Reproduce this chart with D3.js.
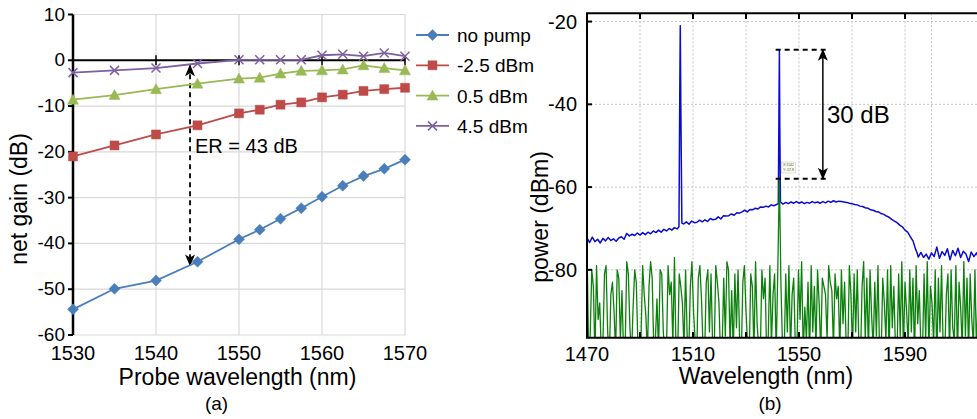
<!DOCTYPE html>
<html>
<head>
<meta charset="utf-8">
<script src="https://cdn.jsdelivr.net/npm/d3@7"></script>
<style>
  html, body { margin: 0; padding: 0; background: #fff; }
  svg { display: block; }
  text { font-family: "Liberation Sans", Arial, sans-serif; fill: #000; }
</style>
</head>
<body>
<div id="chart"></div>
<script>
// ---- Panel (a): net gain vs probe wavelength ------------------------------
const probeNm = [1530, 1535, 1540, 1545, 1550, 1552.5, 1555, 1557.5, 1560, 1562.5, 1565, 1567.5, 1570];
const gainNoPump = [-54.4, -49.9, -48.1, -44.0, -39.1, -37.0, -34.6, -32.3, -29.8, -27.4, -25.3, -23.7, -21.7];
const gainM25 = [-21.0, -18.6, -16.2, -14.2, -11.6, -10.8, -9.7, -9.2, -8.1, -7.5, -6.7, -6.3, -6.0];
const gain05 = [-8.6, -7.6, -6.3, -5.1, -4.0, -3.8, -2.9, -2.3, -2.2, -2.0, -1.1, -1.7, -2.2];
const gain45 = [-2.7, -2.2, -1.7, -0.7, 0.1, 0.1, 0.1, 0.1, 1.1, 1.3, 0.9, 1.6, 0.9];
const seriesNames = ["no pump", "-2.5 dBm", "0.5 dBm", "4.5 dBm"];
const gainTicks = [10, 0, -10, -20, -30, -40, -50, -60];
const probeTicks = [1530, 1540, 1550, 1560, 1570];
const erArrow = [1544.1, -1.1, -44.8]; // wavelength, top dB, bottom dB

// ---- Panel (b): optical spectrum ------------------------------------------
const specTicksX = [1470, 1510, 1550, 1590];
const specMinorX = [1490, 1510, 1530, 1550, 1570, 1590];
const specGridX = [1490, 1510, 1530, 1550, 1570, 1590, 1600];
const specTicksY = [-20, -40, -60, -80];
// blue trace: [nm, dBm]
const bluePump = [
  [1470, -72.3], [1471, -73.4], [1472, -72.1], [1473, -73.2], [1474, -72.6], [1475, -73.5], [1476, -72.4],
  [1477, -73.0], [1478, -72.2], [1479, -72.9], [1480, -72.5], [1481, -73.1], [1482, -72.3], [1483, -72.0],
  [1484, -72.6], [1485, -71.2], [1486, -71.8], [1487, -71.4], [1488, -71.7], [1489, -71.1], [1490, -71.6],
  [1491, -71.0], [1492, -71.5], [1493, -70.9], [1494, -71.3], [1495, -70.6], [1496, -71.0], [1497, -70.4],
  [1498, -70.9], [1499, -70.2], [1500, -70.6], [1501, -70.0], [1502, -70.4], [1503, -69.8], [1504, -70.1],
  [1504.7, -69.6], [1505.0, -38], [1505.2, -21], [1505.4, -40], [1505.8, -68.7], [1506.5, -68.9],
  [1507.5, -68.4], [1508.5, -69.0], [1509.5, -68.2], [1510.5, -68.6], [1511.5, -68.5], [1512.5, -68.0],
  [1513.5, -68.4], [1514.5, -67.9], [1515.5, -68.3], [1516.5, -67.6], [1517.5, -67.9], [1518.5, -67.8],
  [1519.5, -67.2], [1520.5, -67.7], [1521.5, -66.9], [1522.5, -67.0], [1523.5, -66.9], [1524.5, -66.5],
  [1525.5, -66.8], [1526.5, -66.2], [1527.5, -66.3], [1528.5, -66.0], [1529.5, -65.6], [1530.5, -66.0],
  [1531.5, -65.4], [1532.5, -65.5], [1533.5, -65.1], [1534.5, -65.3], [1535.5, -64.8], [1536.5, -64.9],
  [1537.5, -64.6], [1538.5, -64.8], [1539.5, -64.3], [1540.5, -64.5], [1541.5, -64.2], [1542.2, -64.0],
  [1542.45, -40], [1542.6, -27], [1542.75, -45], [1543.0, -63.6], [1544, -64.1], [1545, -63.7],
  [1546, -64.0], [1547, -63.6], [1548, -63.9], [1549, -63.5], [1550, -63.9], [1551, -63.6], [1552, -64.0],
  [1553, -63.7], [1554, -63.9], [1555, -63.5], [1556, -63.8], [1557, -63.6], [1558, -63.9], [1559, -63.5],
  [1560, -63.8], [1561, -63.4], [1562, -63.7], [1563, -63.3], [1564, -63.6], [1565, -63.4], [1566, -63.5],
  [1567, -63.6], [1568, -63.7], [1569, -63.9], [1570, -64.0], [1571, -64.2], [1572, -64.3], [1573, -64.6],
  [1574, -64.7], [1575, -65.0], [1576, -65.1], [1577, -65.5], [1578, -65.6], [1579, -65.9], [1580, -66.0],
  [1581, -66.4], [1582, -66.6], [1583, -67.0], [1584, -67.3], [1585, -67.8], [1586, -68.2], [1587, -68.6],
  [1588, -69.2], [1589, -69.6], [1590, -70.4], [1591, -70.9], [1592, -72.0], [1593, -73.0], [1594, -75.0],
  [1594.5, -75.8], [1595, -76.9], [1596, -75.8], [1597, -77.0], [1598, -76.2], [1599, -77.4], [1600, -75.9],
  [1601, -76.8], [1602, -74.5], [1603, -77.2], [1604, -75.6], [1605, -76.5], [1606, -74.9], [1607, -77.6],
  [1608, -75.3], [1609, -76.6], [1610, -74.8], [1611, -77.0], [1612, -75.5], [1613, -76.2], [1614, -78.0],
  [1615, -75.7], [1616, -76.8], [1617, -75.9], [1618, -77.5], [1619, -76.1], [1620, -76.6]
];
// green trace: sampled every 0.6 nm from 1470 nm
const greenStartNm = 1470;
const greenStepNm = 0.6;
const greenNoPump = [
  -74, -99, -96, -80, -84, -101, -79, -92, -88, -100, -98, -81, -79, -95, -102, -86, -83, -90, -100, -80,
  -82, -97, -85, -100, -99, -78, -81, -94, -101, -89, -80, -83, -98, -102, -96, -79, -86, -91, -100, -84,
  -78, -82, -99, -97, -87, -100, -80, -81, -95, -101, -99, -79, -86, -83, -98, -77, -100, -101, -81, -84,
  -88, -99, -80, -96, -100, -84, -78, -90, -97, -101, -82, -79, -87, -99, -100, -83, -80, -95, -81, -98,
  -100, -79, -83, -88, -101, -99, -82, -96, -78, -80, -99, -85, -100, -81, -94, -80, -97, -102, -83, -79,
  -90, -98, -101, -81, -84, -100, -78, -93, -99, -100, -80, -87, -82, -101, -96, -79, -98, -86, -81, -100,
  -80, -57.8, -84, -99, -101, -81, -95, -79, -100, -86, -82, -98, -100, -80, -92, -78, -100, -89, -97, -83,
  -101, -79, -95, -84, -99, -80, -88, -100, -82, -84, -86, -97, -79, -83, -85, -99, -81, -87, -84, -100,
  -80, -93, -83, -98, -101, -79, -86, -100, -81, -95, -80, -99, -102, -84, -78, -97, -82, -100, -80, -91,
  -99, -83, -96, -79, -100, -101, -82, -88, -97, -80, -101, -79, -94, -84, -99, -100, -81, -96, -78, -100,
  -83, -90, -98, -80, -95, -82, -101, -79, -93, -85, -99, -100, -81, -97, -78, -100, -84, -88, -98, -80,
  -102, -82, -95, -79, -99, -101, -86, -81, -100, -80, -94, -97, -79, -101, -83, -89, -99, -78, -96, -82,
  -100, -81, -92, -98, -80, -101, -84, -95, -79, -99, -82
];
const erSpan = [1541.2, 1560.9, -26.8, -58.0, 1559.0]; // dashed x0, x1, top, bottom, arrow x

(function () {
  const W = 977, H = 419;
  const svg = d3.select("#chart").append("svg").attr("width", W).attr("height", H);
  svg.append("rect").attr("width", W).attr("height", H).attr("fill", "#fff");

  const defs = svg.append("defs");
  const head = (id) => {
    defs.append("marker")
      .attr("id", id).attr("viewBox", "0 0 12 12").attr("refX", 11).attr("refY", 6)
      .attr("markerWidth", 12).attr("markerHeight", 12).attr("markerUnits", "userSpaceOnUse")
      .attr("orient", "auto-start-reverse")
      .append("path").attr("d", "M0,1 L12,6 L0,11 L3,6 Z").attr("fill", "#000");
    return `url(#${id})`;
  };
  const ARROW = head("arr");

  // ---- (a) scales ----------------------------------------------------------
  const xA = d3.scaleLinear().domain([1530, 1570]).range([73, 405]);
  const yA = d3.scaleLinear().domain([-60, 10]).range([335, 14.5]);
  const ga = svg.append("g");

  ga.append("g").selectAll("line").data(gainTicks.filter((v) => v !== 0)).join("line")
    .attr("x1", xA(1530)).attr("x2", xA(1570)).attr("y1", (d) => yA(d)).attr("y2", (d) => yA(d))
    .attr("stroke", "#d9d9d9").attr("stroke-width", 1.2);
  ga.append("g").selectAll("line").data(probeTicks.slice(1)).join("line")
    .attr("x1", (d) => xA(d)).attr("x2", (d) => xA(d)).attr("y1", yA(10)).attr("y2", yA(-60))
    .attr("stroke", "#d9d9d9").attr("stroke-width", 1.2);

  // zero line with crossing ticks, and the left axis
  ga.append("line").attr("x1", xA(1530)).attr("x2", xA(1570)).attr("y1", yA(0)).attr("y2", yA(0))
    .attr("stroke", "#000").attr("stroke-width", 2);
  ga.append("g").selectAll("line").data(probeTicks.slice(1)).join("line")
    .attr("x1", (d) => xA(d)).attr("x2", (d) => xA(d)).attr("y1", yA(0) - 5).attr("y2", yA(0) + 5)
    .attr("stroke", "#000").attr("stroke-width", 1.5);
  ga.append("line").attr("x1", xA(1530)).attr("x2", xA(1530)).attr("y1", yA(10)).attr("y2", yA(-60))
    .attr("stroke", "#000").attr("stroke-width", 2.5);
  ga.append("g").selectAll("line").data(gainTicks).join("line")
    .attr("x1", xA(1530) - 5).attr("x2", xA(1530)).attr("y1", (d) => yA(d)).attr("y2", (d) => yA(d))
    .attr("stroke", "#000").attr("stroke-width", 2);

  ga.append("g").selectAll("text").data(gainTicks).join("text")
    .attr("x", 65).attr("y", (d) => yA(d) + 6).attr("text-anchor", "end")
    .style("font-size", "19px").text((d) => d);
  ga.append("g").selectAll("text").data(probeTicks).join("text")
    .attr("x", (d) => xA(d)).attr("y", 360).attr("text-anchor", "middle")
    .style("font-size", "20px").text((d) => d);

  ga.append("text").attr("x", 237.5).attr("y", 385).attr("text-anchor", "middle")
    .style("font-size", "23px").text("Probe wavelength (nm)");
  ga.append("text").attr("x", 216.5).attr("y", 410).attr("text-anchor", "middle")
    .style("font-size", "19px").text("(a)");
  ga.append("text").attr("transform", "translate(27,199) rotate(-90)").attr("text-anchor", "middle")
    .style("font-size", "23px").text("net gain (dB)");

  // ER annotation
  ga.append("line")
    .attr("x1", xA(erArrow[0])).attr("x2", xA(erArrow[0]))
    .attr("y1", yA(erArrow[1])).attr("y2", yA(erArrow[2]))
    .attr("stroke", "#000").attr("stroke-width", 1.8).attr("stroke-dasharray", "5,4")
    .attr("marker-start", ARROW).attr("marker-end", ARROW);
  ga.append("text").attr("x", 195).attr("y", 153).style("font-size", "20px").text("ER = 43 dB");

  // series
  const COLS = ["#4a7ebb", "#be4b48", "#98b954", "#7d60a0"];
  const SHAPES = [
    "M0,-5.5L5.5,0L0,5.5L-5.5,0Z",
    "M-4.5,-4.5H4.5V4.5H-4.5Z",
    "M0,-5.5L5.5,4.5H-5.5Z",
    "M-4.5,-4.5L4.5,4.5M-4.5,4.5L4.5,-4.5"
  ];
  const series = [gainNoPump, gainM25, gain05, gain45].map((vals, i) => ({
    i, pts: vals.map((v, k) => [probeNm[k], v])
  }));
  const lineA = d3.line().x((p) => xA(p[0])).y((p) => yA(p[1]));
  const drawMarker = (sel, i) => {
    sel.attr("d", SHAPES[i])
      .attr("fill", i === 3 ? "none" : COLS[i])
      .attr("stroke", COLS[i]).attr("stroke-width", i === 3 ? 1.5 : 0.5);
  };
  series.forEach((s) => {
    ga.append("path").attr("d", lineA(s.pts)).attr("fill", "none")
      .attr("stroke", COLS[s.i]).attr("stroke-width", 1.8);
    ga.append("g").selectAll("path").data(s.pts).join("path")
      .attr("transform", (p) => `translate(${xA(p[0])},${yA(p[1])})`)
      .call(drawMarker, s.i);
  });

  // legend
  const leg = ga.append("g").selectAll("g").data(seriesNames).join("g")
    .attr("transform", (d, i) => `translate(416,${35 + i * 30.3})`);
  leg.append("line").attr("x1", 0).attr("x2", 33).attr("stroke", (d, i) => COLS[i]).attr("stroke-width", 1.8);
  leg.append("path").attr("transform", "translate(16.5,0)").each(function (d, i) { d3.select(this).call(drawMarker, i); });
  leg.append("text").attr("x", 41).attr("y", 7).style("font-size", "19px").text((d) => d);

  // ---- (b) spectrum --------------------------------------------------------
  const xB = d3.scaleLinear().domain([1470, 1620]).range([587, 984.5]);
  const yB = d3.scaleLinear().domain([-96.4, -18]).range([337.7, 13.3]);
  const gb = svg.append("g");
  defs.append("clipPath").attr("id", "clipB").append("rect")
    .attr("x", 587).attr("y", 13.3).attr("width", 400).attr("height", 337.7 - 13.3);

  gb.append("g").selectAll("line").data(specTicksY).join("line")
    .attr("x1", 587).attr("x2", W).attr("y1", (d) => yB(d)).attr("y2", (d) => yB(d))
    .attr("stroke", "#c4c4c4").attr("stroke-width", 1).attr("stroke-dasharray", "2,2");
  gb.append("g").selectAll("line").data(specGridX).join("line")
    .attr("x1", (d) => xB(d)).attr("x2", (d) => xB(d)).attr("y1", 13.3).attr("y2", 337.7)
    .attr("stroke", "#c4c4c4").attr("stroke-width", 1).attr("stroke-dasharray", "2,2");

  const plot = gb.append("g").attr("clip-path", "url(#clipB)");
  const lineB = d3.line().x((p) => xB(p[0])).y((p) => yB(p[1]));
  plot.append("path").attr("d", lineB(bluePump)).attr("fill", "none")
    .attr("stroke", "#0a0ad2").attr("stroke-width", 1.5).attr("stroke-linejoin", "round");
  const greenPts = greenNoPump.map((v, k) => [greenStartNm + k * greenStepNm, v]);
  plot.append("path").attr("d", lineB(greenPts)).attr("fill", "none")
    .attr("stroke", "#0b800b").attr("stroke-width", 1.3).attr("stroke-linejoin", "round");

  // frame + ticks
  gb.append("path")
    .attr("d", `M${W},13.3H587V337.7H${W}`)
    .attr("fill", "none").attr("stroke", "#000").attr("stroke-width", 2);
  gb.append("g").selectAll("line").data(specMinorX).join("line")
    .attr("x1", (d) => xB(d)).attr("x2", (d) => xB(d)).attr("y1", 13.3).attr("y2", 19)
    .attr("stroke", "#000").attr("stroke-width", 2);
  gb.append("g").selectAll("line").data(specMinorX).join("line")
    .attr("x1", (d) => xB(d)).attr("x2", (d) => xB(d)).attr("y1", 337.7).attr("y2", 332)
    .attr("stroke", "#000").attr("stroke-width", 2);
  gb.append("g").selectAll("line").data(specTicksY).join("line")
    .attr("x1", 587).attr("x2", 592).attr("y1", (d) => yB(d)).attr("y2", (d) => yB(d))
    .attr("stroke", "#000").attr("stroke-width", 2);

  gb.append("g").selectAll("text").data(specTicksY).join("text")
    .attr("x", 577).attr("y", (d) => yB(d) + 7).attr("text-anchor", "end")
    .style("font-size", "20px").text((d) => d);
  gb.append("g").selectAll("text").data(specTicksX).join("text")
    .attr("x", (d) => xB(d)).attr("y", 361).attr("text-anchor", "middle")
    .style("font-size", "20px").text((d) => d);
  gb.append("text").attr("x", 766).attr("y", 384).attr("text-anchor", "middle")
    .style("font-size", "23px").text("Wavelength (nm)");
  gb.append("text").attr("x", 770).attr("y", 410).attr("text-anchor", "middle")
    .style("font-size", "19px").text("(b)");
  gb.append("text").attr("transform", "translate(548,217) rotate(-90)").attr("text-anchor", "middle")
    .style("font-size", "23px").text("power (dBm)");

  // 30 dB annotation
  [erSpan[2], erSpan[3]].forEach((v) => {
    gb.append("line").attr("x1", xB(erSpan[0])).attr("x2", xB(erSpan[1]))
      .attr("y1", yB(v)).attr("y2", yB(v))
      .attr("stroke", "#000").attr("stroke-width", 2).attr("stroke-dasharray", "5,4");
  });
  gb.append("line").attr("x1", xB(erSpan[4])).attr("x2", xB(erSpan[4]))
    .attr("y1", yB(erSpan[2])).attr("y2", yB(erSpan[3]))
    .attr("stroke", "#000").attr("stroke-width", 1.5)
    .attr("marker-start", ARROW).attr("marker-end", ARROW);
  gb.append("text").attr("x", 827).attr("y", 123).style("font-size", "24px").text("30 dB");

  // tiny data tip
  const tip = gb.append("g").attr("transform", `translate(${xB(1542.6) + 2},${yB(-57.8) - 16})`);
  tip.append("rect").attr("width", 14).attr("height", 11).attr("fill", "#fbfbee").attr("stroke", "#c8c8b0").attr("stroke-width", 0.5);
  tip.append("text").attr("x", 1.5).attr("y", 4.5).style("font-size", "3.5px").style("fill", "#555").text("X:1542");
  tip.append("text").attr("x", 1.5).attr("y", 9).style("font-size", "3.5px").style("fill", "#555").text("Y:-57.8");
})();
</script>
</body>
</html>
